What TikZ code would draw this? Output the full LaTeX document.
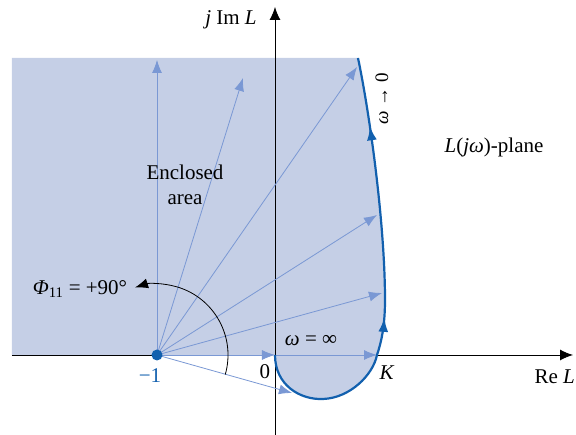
\documentclass[tikz,border=0pt]{standalone}
\usepackage{fontspec}
\setmainfont{Liberation Serif}
\usetikzlibrary{arrows.meta,decorations.markings}
\definecolor{areablue}{RGB}{197,207,230}
\definecolor{rayblue}{RGB}{122,152,212}
\definecolor{locusblue}{RGB}{18,96,174}

\begin{document}
\begin{tikzpicture}[x=1pt,y=1pt,>=Latex,font=\fontsize{21}{24}\selectfont,
  axis/.style={line width=0.9pt,-{Latex[length=13pt,width=11pt]}},
  ray/.style={rayblue,line width=0.8pt,-{Latex[length=13pt,width=10pt]}},
  locus/.style={locusblue,line width=2.2pt,postaction={decorate},
    decoration={markings,
      mark=at position 0.415 with {\arrow{Latex[length=14pt,width=10pt]}},
      mark=at position 0.845 with {\arrow{Latex[length=14pt,width=10pt]}}}}]
  \useasboundingbox (-275,-80) rectangle (301,355);
  \coordinate (O) at (0,0);
  \coordinate (M) at (-118,0);
  \coordinate (K) at (102,0);
  \coordinate (B) at (48,-44);
  \coordinate (S) at (110,55);
  \coordinate (T) at (83,297);
  % shaded area
  \fill[areablue] (O) .. controls (0,-30) and (25,-45) .. (B)
    .. controls (75,-43) and (98,-20) .. (K)
    .. controls (106,12) and (110,28) .. (S)
    .. controls (110,130) and (95,240) .. (T)
    -- (-263,297) -- (-263,0) -- cycle;
  % axes
  \draw[axis] (0,-80) -- (0,348);
  \draw[line width=0.9pt] (-263,0) -- (M);
  \draw[axis] (K) -- (298,0);
  % vectors from -1
  \coordinate (r1) at (-118,295);
  \coordinate (r2) at (-32,277);
  \coordinate (r3) at (82,288);
  \coordinate (r4) at (102,140);
  \coordinate (r5) at (107,62);
  \coordinate (r6) at (17,-38);
  \foreach \r in {r1,r2,r3,r4,r5,O,r6}
    \draw[ray] (M) -- (\r);
  \draw[ray] (O) -- (K);
  \draw[line width=0.8pt,-{Latex[length=13pt,width=10pt]}] (M) ++(-16:71)
    arc[start angle=-16,end angle=108,radius=71];
  % Nyquist locus
  \draw[locus] (O) .. controls (0,-30) and (25,-45) .. (B)
    .. controls (75,-43) and (98,-20) .. (K)
    .. controls (106,12) and (110,28) .. (S)
    .. controls (110,130) and (95,240) .. (T);
  \fill[locusblue] (M) circle (5.5);
  % labels
  \node (phi) at (-195,66) {\textit{Φ}\textsubscript{11} = +90°};
  \node[align=center,font=\fontsize{21}{25}\selectfont] (encl) at (-90,170) {Enclosed\\area};
  \node[locusblue] (m1) at (-125,-21) {−1};
  \node (zero) at (-10,-17) {0};
  \node (winf) at (36,14) {\textit{ω} = ∞};
  \node (kval) at (112,-18) {\textit{K}};
  \node[anchor=east,inner sep=0pt] (rel) at (300,-22) {Re \textit{L}};
  \node (iml) at (-44,335) {\textit{j} Im \textit{L}};
  \node (plane) at (219,208) {\textit{L}(\textit{jω})-plane};
  \node[rotate=90,font=\fontsize{19}{22}\selectfont] (wzero) at (107,256) {\textit{ω} → 0};
\end{tikzpicture}
\end{document}
